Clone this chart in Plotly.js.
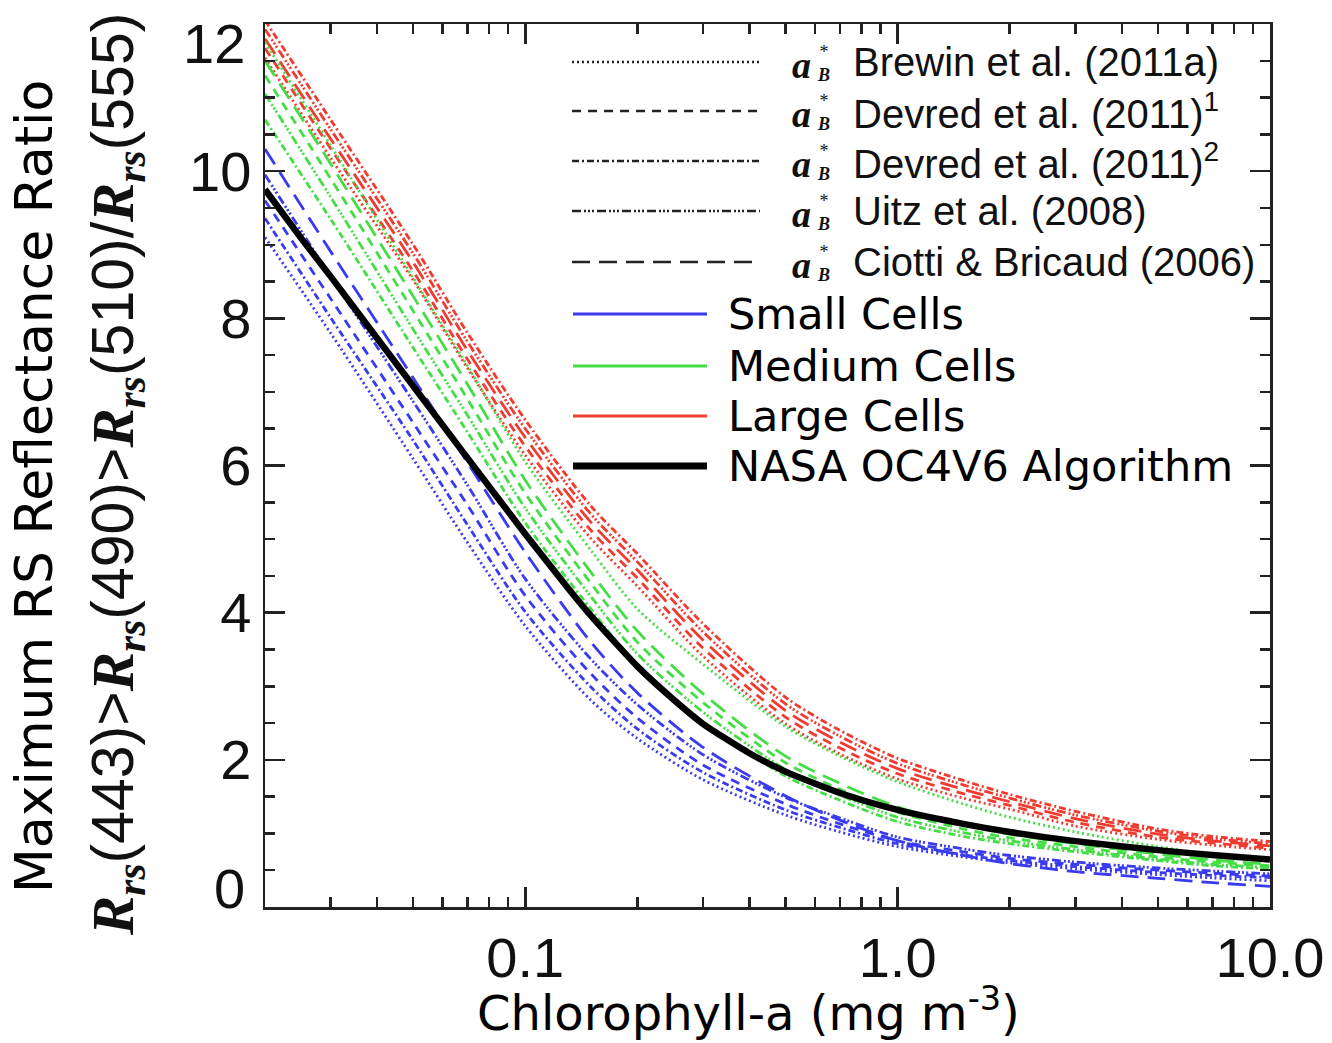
<!DOCTYPE html>
<html><head><meta charset="utf-8">
<script src="https://cdn.plot.ly/plotly-3.0.1.min.js"></script>
<style>html,body{margin:0;padding:0;background:#fff;} #chart{width:1332px;height:1043px;}</style>
</head><body><div id="chart"></div>
<script>
// Chlorophyll-a sample points (mg m^-3)
const chl = [0.02, 0.03, 0.05, 0.07, 0.1, 0.15, 0.2, 0.3, 0.5, 0.7, 1, 1.5, 2, 3, 5, 7, 10];

// NASA OC4V6 algorithm curve (read on a finer set of points)
const chlNasa   = [0.02, 0.025, 0.03, 0.04, 0.05, 0.07, 0.1, 0.13, 0.15, 0.2, 0.25, 0.3, 0.4, 0.5, 0.7, 1, 1.5, 2, 3, 5, 7, 10];
const nasaOC4V6 = [9.75, 9.09, 8.57, 7.73, 7.08, 6.10, 5.07, 4.34, 3.96, 3.27, 2.82, 2.49, 2.09, 1.84, 1.55, 1.32, 1.13, 1.02, 0.895, 0.773, 0.706, 0.646];

// Small cells (blue)
const smallCiotti  = [10.30, 8.91, 7.19, 6.04, 4.82, 3.60, 2.91, 2.17, 1.51, 1.18, 0.90, 0.70, 0.59, 0.48, 0.39, 0.33, 0.28];
const smallUitz    = [9.95, 8.57, 6.87, 5.73, 4.46, 3.37, 2.75, 2.07, 1.49, 1.21, 0.95, 0.79, 0.70, 0.61, 0.53, 0.49, 0.45];
const smallDevred1 = [9.60, 8.27, 6.58, 5.46, 4.23, 3.17, 2.57, 1.93, 1.40, 1.13, 0.90, 0.75, 0.66, 0.58, 0.50, 0.46, 0.42];
const smallDevred2 = [9.36, 8.01, 6.34, 5.19, 4.01, 2.99, 2.42, 1.83, 1.32, 1.08, 0.86, 0.71, 0.63, 0.55, 0.47, 0.43, 0.40];
const smallBrewin  = [9.10, 7.80, 6.09, 4.95, 3.82, 2.81, 2.29, 1.73, 1.25, 1.02, 0.82, 0.68, 0.60, 0.52, 0.44, 0.395, 0.355];

// Medium cells (green)
const mediumBrewin  = [11.75, 10.35, 8.55, 7.35, 6.05, 4.85, 4.05, 3.30, 2.45, 2.05, 1.70, 1.40, 1.22, 1.02, 0.82, 0.71, 0.62];
const mediumCiotti  = [11.50, 10.10, 8.30, 7.10, 5.80, 4.55, 3.75, 2.90, 2.05, 1.68, 1.36, 1.12, 0.99, 0.86, 0.72, 0.64, 0.58];
const mediumDevred1 = [11.30, 9.90, 8.10, 6.90, 5.62, 4.40, 3.60, 2.78, 1.96, 1.60, 1.29, 1.06, 0.94, 0.82, 0.68, 0.61, 0.56];
const mediumUitz    = [11.05, 9.65, 7.85, 6.68, 5.42, 4.22, 3.44, 2.65, 1.87, 1.52, 1.22, 1.01, 0.90, 0.78, 0.65, 0.58, 0.54];
const mediumDevred2 = [10.70, 9.35, 7.60, 6.45, 5.22, 4.05, 3.28, 2.52, 1.78, 1.45, 1.16, 0.96, 0.86, 0.75, 0.63, 0.56, 0.52];

// Large cells (red)
const largeDevred2 = [12.05, 10.70, 9.00, 7.80, 6.62, 5.45, 4.80, 3.85, 2.85, 2.40, 2.02, 1.72, 1.53, 1.30, 1.06, 0.96, 0.89];
const largeUitz    = [11.93, 10.57, 8.88, 7.68, 6.50, 5.34, 4.69, 3.74, 2.76, 2.32, 1.95, 1.66, 1.48, 1.25, 1.03, 0.93, 0.86];
const largeCiotti  = [11.80, 10.44, 8.76, 7.56, 6.38, 5.23, 4.58, 3.63, 2.67, 2.24, 1.88, 1.60, 1.43, 1.20, 0.99, 0.90, 0.83];
const largeDevred1 = [11.67, 10.31, 8.64, 7.44, 6.26, 5.12, 4.47, 3.52, 2.58, 2.16, 1.81, 1.54, 1.38, 1.15, 0.95, 0.87, 0.80];
const largeBrewin  = [11.54, 10.18, 8.52, 7.32, 6.14, 5.01, 4.36, 3.41, 2.49, 2.08, 1.74, 1.48, 1.33, 1.10, 0.92, 0.84, 0.78];

// Tick labels
const xTickVals = [0.1, 1, 10];
const xTickText = ['0.1', '1.0', '10.0'];
const yTickVals = [2, 4, 6, 8, 10];
const yTickText = ['2', '4', '6', '8', '10'];
const xMinorVals = [0.03,0.04,0.05,0.06,0.07,0.08,0.09,0.2,0.3,0.4,0.5,0.6,0.7,0.8,0.9,2,3,4,5,6,7,8,9];

// Legend text
const modelNames = ['Brewin et al. (2011a)', 'Devred et al. (2011)<sup>1</sup>', 'Devred et al. (2011)<sup>2</sup>', 'Uitz et al. (2008)', 'Ciotti &amp; Bricaud (2006)'];
const sizeNames = ['Small Cells', 'Medium Cells', 'Large Cells', 'NASA OC4V6 Algorithm'];

// styles
const DASH = {
  brewin: '2px,3px',
  devred1: '9px,7px',
  devred2: '7px,3px,2px,3px',
  uitz: '9px,3px,2px,2px,2px,2px,2px,3px',
  ciotti: '18px,9px'
};
const modelDashes = [DASH.brewin, DASH.devred1, DASH.devred2, DASH.uitz, DASH.ciotti];
const BLUE = '#3a3af0', GREEN = '#45dd45', RED = '#ef3b30';

function tr(y, color, dash) {
  return {x: chl, y: y, type: 'scatter', mode: 'lines', showlegend: false,
    line: {color: color, width: 2.8, dash: dash, shape: 'spline', smoothing: 0.8}, hoverinfo: 'skip'};
}
const traces = [
  tr(largeDevred2, RED, DASH.devred2), tr(largeUitz, RED, DASH.uitz), tr(largeCiotti, RED, DASH.ciotti),
  tr(largeDevred1, RED, DASH.devred1), tr(largeBrewin, RED, DASH.brewin),
  tr(mediumBrewin, GREEN, DASH.brewin), tr(mediumCiotti, GREEN, DASH.ciotti), tr(mediumDevred1, GREEN, DASH.devred1),
  tr(mediumUitz, GREEN, DASH.uitz), tr(mediumDevred2, GREEN, DASH.devred2),
  tr(smallCiotti, BLUE, DASH.ciotti), tr(smallUitz, BLUE, DASH.uitz), tr(smallDevred1, BLUE, DASH.devred1),
  tr(smallDevred2, BLUE, DASH.devred2), tr(smallBrewin, BLUE, DASH.brewin),
  {x: chlNasa, y: nasaOC4V6, type: 'scatter', mode: 'lines', showlegend: false, hoverinfo: 'skip',
   line: {color: '#000', width: 6.5, shape: 'spline', smoothing: 0.6}}
];

// pixel -> paper helpers for layout decorations
const L = 265, R = 1270, T = 24, B = 907;
const px = v => (v - L) / (R - L);
const py = v => (B - v) / (B - T);

const shapes = [];
const annotations = [];
const rowY = [62, 111, 161, 211, 262];
rowY.forEach((y, i) => {
  shapes.push({type: 'line', xref: 'paper', yref: 'paper', x0: px(572), x1: px(760), y0: py(y), y1: py(y),
    line: {color: '#222', width: 2.5, dash: modelDashes[i]}});
  annotations.push({xref: 'paper', yref: 'paper', x: px(801), y: py(y + 3), text: '<b><i>a</i></b>', showarrow: false,
    xanchor: 'center', yanchor: 'middle', font: {family: 'Liberation Serif, Times New Roman, serif', size: 38, color: '#111'}});
  annotations.push({xref: 'paper', yref: 'paper', x: px(823), y: py(y + 1), text: '*<br><b><i>B</i></b>', showarrow: false,
    xanchor: 'center', yanchor: 'middle', font: {family: 'Liberation Serif, serif', size: 18, color: '#111'}});
  annotations.push({xref: 'paper', yref: 'paper', x: px(851), y: py(y), text: modelNames[i], showarrow: false,
    xanchor: 'left', yanchor: 'middle', font: {family: 'Liberation Sans, Arial, sans-serif', size: 40, color: '#111'}});
});
const sizeRowY = [314, 366, 416, 466];
const sizeColors = [BLUE, GREEN, RED, '#000'];
const sizeWidths = [3, 3, 3, 7];
sizeRowY.forEach((y, i) => {
  shapes.push({type: 'line', xref: 'paper', yref: 'paper', x0: px(573), x1: px(707), y0: py(y), y1: py(y),
    line: {color: sizeColors[i], width: sizeWidths[i]}});
  annotations.push({xref: 'paper', yref: 'paper', x: px(726), y: py(y), text: sizeNames[i], showarrow: false,
    xanchor: 'left', yanchor: 'middle', font: {family: 'DejaVu Sans, Verdana, sans-serif', size: 43, color: '#000'}});
});

// edge tick labels offset inward like the original
const tickFont = {family: 'Liberation Sans, Arial, sans-serif', size: 56, color: '#111'};
annotations.push({xref: 'paper', yref: 'y', x: 0, y: 0, xanchor: 'right', yanchor: 'middle', xshift: -18, yshift: 19,
  text: '0', showarrow: false, font: tickFont});
annotations.push({xref: 'paper', yref: 'y', x: 0, y: 12, xanchor: 'right', yanchor: 'middle', xshift: -18, yshift: -19,
  text: '12', showarrow: false, font: tickFont});

// axis titles
annotations.push({xref: 'paper', yref: 'paper', x: px(34), y: py(487), textangle: -90, showarrow: false,
  xanchor: 'center', yanchor: 'middle', text: 'Maximum RS Reflectance Ratio',
  font: {family: 'DejaVu Sans, Verdana, sans-serif', size: 52, color: '#000'}});
const Rrs = '<span style="font-family:Liberation Serif, Times New Roman, serif"><b><i>R</i></b></span><sub><span style="font-family:Liberation Serif, serif"><b><i>rs</i></b></span></sub>';
annotations.push({xref: 'paper', yref: 'paper', x: px(117), y: py(475), textangle: -90, showarrow: false,
  xanchor: 'center', yanchor: 'middle',
  text: Rrs + '(443)>' + Rrs + '(490)>' + Rrs + '(510)/' + Rrs + '(555)',
  font: {family: 'Liberation Sans, Arial, sans-serif', size: 59, color: '#111'}});
annotations.push({xref: 'paper', yref: 'paper', x: px(748), y: py(1010), showarrow: false,
  xanchor: 'center', yanchor: 'middle', text: 'Chlorophyll-a (mg m<sup>-3</sup>)',
  font: {family: 'DejaVu Sans, Verdana, sans-serif', size: 48, color: '#000'}});

const axisCommon = {
  showgrid: false, zeroline: false, showline: true, linecolor: '#222', linewidth: 2.5,
  ticks: 'inside', ticklen: 20, tickwidth: 2.5, tickcolor: '#222', mirror: 'ticks',
  tickfont: tickFont
};

const layout = {
  width: 1332, height: 1043,
  margin: {l: L, r: 1332 - R, t: T, b: 1043 - B},
  paper_bgcolor: '#fff', plot_bgcolor: '#fff',
  showlegend: false,
  xaxis: Object.assign({}, axisCommon, {
    type: 'log', range: [Math.log10(0.02), 1],
    tickmode: 'array', tickvals: xTickVals, ticktext: xTickText,
    minor: {tickmode: 'array', tickvals: xMinorVals, ticks: 'inside', ticklen: 10, tickwidth: 2.5, tickcolor: '#222', showgrid: false}
  }),
  yaxis: Object.assign({}, axisCommon, {
    range: [0, 12], tickmode: 'array', tickvals: yTickVals, ticktext: yTickText,
    minor: {dtick: 0.5, ticks: 'inside', ticklen: 10, tickwidth: 2.5, tickcolor: '#222', showgrid: false}
  }),
  shapes: shapes,
  annotations: annotations
};

Plotly.newPlot('chart', traces, layout, {displayModeBar: false, staticPlot: true});
</script>
</body></html>
